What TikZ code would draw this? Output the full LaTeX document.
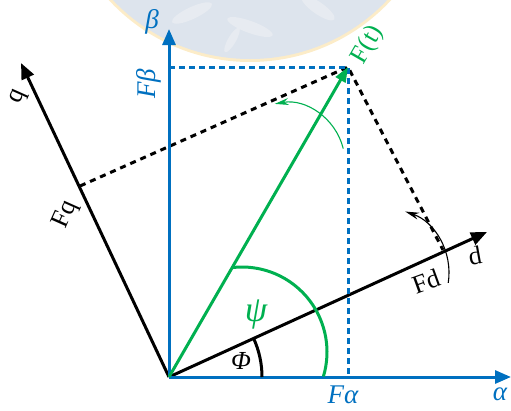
\documentclass[tikz,border=0pt]{standalone}
\usepackage{fontspec}
\setmainfont{Liberation Serif}
\usetikzlibrary{arrows.meta}
\definecolor{axblue}{RGB}{0,112,192}
\definecolor{vgreen}{RGB}{0,176,80}
\definecolor{wmdisc}{RGB}{221,228,237}
\definecolor{wmrim}{RGB}{252,236,200}
\definecolor{wmleaf}{RGB}{231,235,241}
\begin{document}
\begin{tikzpicture}[x=1pt,y=-1pt,
  axisline/.style={line width=3pt,-{Triangle[length=16pt,width=13pt]}},
  vecline/.style={line width=3pt,vgreen,-{Triangle[length=15pt,width=11pt]}},
  bdash/.style={line width=3pt,axblue,dash pattern=on 6pt off 4pt},
  kdash/.style={line width=3pt,black,dash pattern=on 6pt off 5pt},
  anglearc/.style={line width=3pt},
  turnarrow/.style={line width=1.1pt,-{Stealth[length=14pt,width=7pt]}},
  lbl/.style={inner sep=0pt,font=\fontsize{26}{30}\selectfont},
  ilbl/.style={inner sep=0pt,font=\fontsize{27}{31}\selectfont\itshape}
]
\useasboundingbox (0,0) rectangle (511,410);
% faint watermark
\begin{scope}
  \clip (0,0) rectangle (511,410);
  \fill[wmrim] (250,-130) circle (192);
  \fill[wmdisc] (250,-130) circle (189);
  \fill[wmleaf,rotate around={25:(192,13)}] (192,13) ellipse (22 and 6);
  \fill[wmleaf,rotate around={-20:(250,27)}] (250,27) ellipse (24 and 6);
  \fill[wmleaf,rotate around={-35:(318,8)}] (318,8) ellipse (20 and 6);
  \fill[wmleaf,rotate around={60:(232,40)}] (232,40) ellipse (14 and 4);
\end{scope}
% coordinates
\coordinate (O) at (169,377);
\coordinate (Aend) at (511,377);
\coordinate (Bend) at (169,29);
\coordinate (Ft) at (348,67);
\coordinate (Dend) at (487,232);
\coordinate (Qend) at (21,63);
\coordinate (Fqf) at (80,186);
\coordinate (Fdf) at (443,250);
\coordinate (Fbf) at (169,67);
\coordinate (Faf) at (348,377);
% projections
\draw[kdash] (Fqf) -- (Ft) -- (Fdf);
% axes
\draw[axisline] (O) -- (Dend);
\draw[axisline] (O) -- (Qend);
\draw[bdash] (Fbf) -- (Ft) -- (Faf);
\draw[axisline,axblue] (O) -- (Aend);
\draw[axisline,axblue] (O) -- (Bend);
% angle arcs
\draw[anglearc] (O) ++(0:93) arc[start angle=0,end angle=-24.5,radius=93];
\draw[anglearc,vgreen] (242,352) ++(-97:85) arc[start angle=-97,end angle=16.7,radius=85];
% vector
\draw[vecline] (O) -- (Ft);
% rotation arrows
\draw[turnarrow,vgreen] (285,163) ++(-13.9:60) arc[start angle=-13.9,end angle=-99.9,radius=60];
\draw[turnarrow] (384,273) ++(8.7:65) arc[start angle=8.7,end angle=-71,radius=65];
% labels
\node[ilbl,axblue] (lb) at (152,22) {β};
\node[ilbl,axblue,rotate=90] (lfb) at (149,84) {Fβ};
\node[lbl,vgreen,rotate=60] (lft) at (368,45) {F(t)};
\node[lbl,rotate=66] (lq) at (19,97) {q};
\node[lbl,rotate=66] (lfq) at (66,215) {Fq};
\node[lbl,rotate=20] (lfd) at (426,281) {Fd};
\node[lbl,rotate=10] (ld) at (475,256) {d};
\node[ilbl,vgreen,font=\fontsize{36}{40}\selectfont\itshape] (lpsi) at (256,314) {ψ};
\node[ilbl,font=\fontsize{26}{30}\selectfont\itshape] (lphi) at (241,361) {Φ};
\node[ilbl,axblue] (lfa) at (343,395) {Fα};
\node[ilbl,axblue] (la) at (500,394) {α};
\end{tikzpicture}
\end{document}
